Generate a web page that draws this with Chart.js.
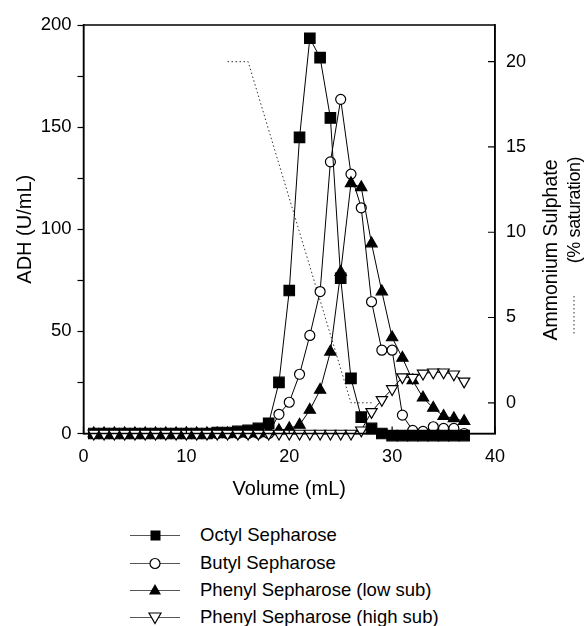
<!DOCTYPE html>
<html>
<head>
<meta charset="utf-8">
<script src="https://cdn.jsdelivr.net/npm/chart.js@4"></script>
<style>
  body { margin: 0; background: #fff; }
  #wrap { position: relative; width: 584px; height: 626px; font-family: "Liberation Sans", Arial, sans-serif; color: #000; }
  #chart { position: absolute; left: 0; top: 0; }
  .rt { position: absolute; white-space: nowrap; line-height: 1; transform: translate(-50%, -50%) rotate(-90deg); }
  .row { position: absolute; left: 130px; display: flex; align-items: center; font-size: 18.5px; transform: translateY(-50%); white-space: nowrap; }
  .row svg { margin-right: 20px; }
</style>
</head>
<body>
<div id="wrap">
  <canvas id="chart" width="584" height="510"></canvas>
  <div class="rt" style="left:551px; top:250px; font-size:19.5px;">Ammonium Sulphate</div>
  <div class="rt" style="left:574px; top:210px; font-size:18px; letter-spacing:-0.4px;">(% saturation)</div>
  <svg style="position:absolute; left:570px; top:295px;" width="8" height="42">
    <line x1="4" y1="1" x2="4" y2="41" stroke="#333" stroke-width="1" stroke-dasharray="1.5 2.5"/>
  </svg>
  <div id="legend"></div>
</div>
<script>
// fraction volume (mL)
const volumes = [1, 2, 3, 4, 5, 6, 7, 8, 9, 10, 11, 12, 13, 14, 15, 16, 17, 18, 19, 20,
  21, 22, 23, 24, 25, 26, 27, 28, 29, 30, 31, 32, 33, 34, 35, 36, 37];

// ADH activity (U/mL)
const octyl = [0, 0, 0, 0, 0, 0, 0, 0, 0, 0, 0, 0, 0.5, 0.5, 1, 1.5, 2.5, 5, 25, 70,
  145, 193.5, 184, 154.5, 76, 27, 8, 2.5, 0, -1, -1, -1, -1, -1, -1, -1, -1];
const butyl = [0, 0, 0, 0, 0, 0, 0, 0, 0, 0, 0, 0, 0, 0, 0, 0, 0, 0, 9.4, 15.3,
  29, 48, 69.5, 133, 163.6, 127, 110.5, 64.5, 40.8, 40.8, 9, 1.5, 1, 3.3, 2.5, 2.5, 0];
const phenylLow = [0, 0, 0, 0, 0, 0, 0, 0, 0, 0, 0, 0, 0, 0, 0, 0, 0, 1, 1.5, 2.5,
  4.2, 11.5, 21.3, 40, 79, 122.5, 120.5, 93, 69.5, 47, 37, 26, 17.5, 12.5, 8.5, 7.4, 6];
const phenylHigh = [0, 0, 0, 0, 0, 0, 0, 0, 0, 0, 0, 0, 0, 0, 0, 0, 0, 0, 0, 0,
  0, 0, 0, 0, 0, 0, 1.6, 10.6, 16.5, 21.8, 27.6, 27.4, 29.4, 30, 30, 29, 25.5];

// ammonium sulphate gradient (% saturation)
const saltVolumes = [14, 16, 26, 28];
const saltSat = [20, 20, 0, 0];

const seriesNames = ['Octyl Sepharose', 'Butyl Sepharose', 'Phenyl Sepharose (low sub)', 'Phenyl Sepharose (high sub)'];

const xTicks = [0, 10, 20, 30, 40];
const yTicks = [0, 25, 50, 75, 100, 125, 150, 175, 200];
const y2Ticks = [0, 5, 10, 15, 20];

const pts = (xs, ys) => xs.map((x, i) => ({ x: x, y: ys[i] }));

const markers = [
  { pointStyle: 'rect', pointRadius: 7.4, pointBackgroundColor: '#000', order: 2 },
  { pointStyle: 'circle', pointRadius: 5, pointBackgroundColor: '#fff', order: 3 },
  { pointStyle: 'triangle', pointRadius: 6.5, pointBackgroundColor: '#000', order: 1 },
  { pointStyle: 'triangle', pointRotation: 180, pointRadius: 6.5, pointBackgroundColor: '#fff', order: 0 }
];
const series = [octyl, butyl, phenylLow, phenylHigh];

const datasets = series.map((s, i) => Object.assign({
  label: seriesNames[i],
  data: pts(volumes, s),
  borderColor: '#000',
  borderWidth: 1,
  pointBorderColor: '#000',
  pointBorderWidth: 1.2,
  tension: 0,
  clip: 14,
  yAxisID: 'y'
}, markers[i]));

datasets.push({
  label: 'Ammonium Sulphate',
  data: pts(saltVolumes, saltSat),
  borderColor: '#333',
  borderWidth: 1,
  borderDash: [1.5, 2.5],
  pointRadius: 0,
  tension: 0,
  yAxisID: 'y2',
  order: 4
});

// box round the plot plus inward ticks on bottom and right axes
const frame = {
  id: 'frame',
  afterDraw(chart) {
    const { ctx, chartArea: a, scales } = chart;
    ctx.save();
    ctx.strokeStyle = '#000';
    ctx.lineWidth = 1.5;
    ctx.strokeRect(a.left, a.top, a.right - a.left, a.bottom - a.top);
    ctx.lineWidth = 1.2;
    ctx.beginPath();
    scales.x.ticks.forEach(t => {
      const px = scales.x.getPixelForValue(t.value);
      ctx.moveTo(px, a.bottom);
      ctx.lineTo(px, a.bottom - 7);
    });
    scales.y2.ticks.forEach(t => {
      const py = scales.y2.getPixelForValue(t.value);
      ctx.moveTo(a.right, py);
      ctx.lineTo(a.right - 7, py);
    });
    ctx.stroke();
    ctx.restore();
  }
};

Chart.defaults.font.family = '"Liberation Sans", Arial, sans-serif';
Chart.defaults.color = '#000';

new Chart(document.getElementById('chart'), {
  type: 'line',
  data: { datasets: datasets },
  options: {
    responsive: false,
    animation: false,
    events: [],
    layout: { padding: { top: 25, left: 0, right: 0, bottom: 0 } },
    plugins: { legend: { display: false }, tooltip: { enabled: false } },
    scales: {
      x: {
        type: 'linear',
        min: 0,
        max: 40,
        afterBuildTicks: s => { s.ticks = xTicks.map(v => ({ value: v })); },
        afterFit: s => { s.height = 76.5; },
        grid: { display: false },
        border: { display: true, color: '#000', width: 1.5 },
        ticks: { font: { size: 18 }, padding: 5, maxRotation: 0, autoSkip: false },
        title: { display: true, text: 'Volume (mL)', font: { size: 20 }, padding: { top: 0, bottom: 9 } }
      },
      y: {
        position: 'left',
        min: 0,
        max: 200,
        afterBuildTicks: s => { s.ticks = yTicks.map(v => ({ value: v })); },
        afterFit: s => { s.width = 83.5; },
        grid: { drawOnChartArea: false, tickLength: 6, tickColor: '#000', tickWidth: 1.2 },
        border: { display: true, color: '#000', width: 1.5 },
        ticks: { font: { size: 18.5 }, padding: 6, callback: v => (v % 50 === 0 ? v : '') },
        title: { display: true, text: 'ADH (U/mL)', font: { size: 20 }, padding: { top: 13, bottom: 0 } }
      },
      y2: {
        position: 'right',
        min: -1.8,
        max: 22.15,
        afterBuildTicks: s => { s.ticks = y2Ticks.map(v => ({ value: v })); },
        afterFit: s => { s.width = 89; },
        grid: { display: false },
        border: { display: true, color: '#000', width: 1.5 },
        ticks: { font: { size: 18 }, padding: 3 }
      }
    }
  },
  plugins: [frame]
});

// legend below the chart, drawn from the series names
const legend = document.getElementById('legend');
const rowY = [535, 563, 590, 617];
const sample = [
  '<rect x="20.5" y="5.5" width="10" height="10" fill="#000"/>',
  '<circle cx="25" cy="10.5" r="5" fill="#fff" stroke="#000" stroke-width="1.2"/>',
  '<polygon points="25,4 31,14.5 19,14.5" fill="#000"/>',
  '<polygon points="25,16.5 31,6 19,6" fill="#fff" stroke="#000" stroke-width="1.2"/>'
];
seriesNames.forEach((name, i) => {
  const row = document.createElement('div');
  row.className = 'row';
  row.style.top = rowY[i] + 'px';
  row.innerHTML = '<svg width="50" height="21"><line x1="0" y1="10.5" x2="50" y2="10.5" stroke="#555" stroke-width="1"/>' +
    sample[i] + '</svg><span>' + name + '</span>';
  legend.appendChild(row);
});
</script>
</body>
</html>
